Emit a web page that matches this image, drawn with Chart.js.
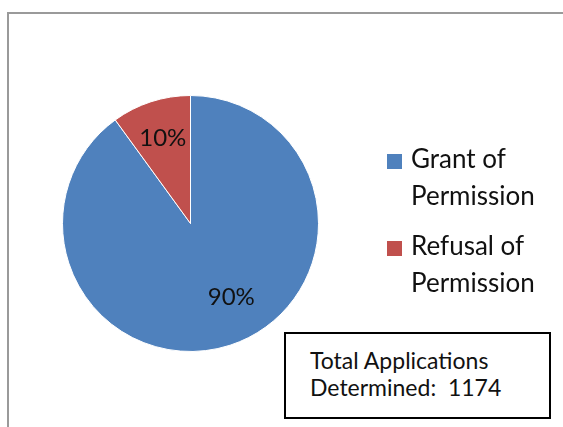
<!DOCTYPE html>
<html>
<head>
<meta charset="utf-8">
<script src="https://cdn.jsdelivr.net/npm/chart.js@4.4.1/dist/chart.umd.min.js"></script>
<style>
  html, body { margin: 0; padding: 0; background: #fff; }
  #wrap { position: relative; width: 563px; height: 427px; overflow: hidden; }
  #frame {
    position: absolute; left: 7px; top: 12px; width: 600px; height: 460px;
    border-left: 2px solid #9a9a9a; border-top: 2px solid #9a9a9a;
  }
  #chart { position: absolute; left: 0; top: 0; }
  #totalBox {
    position: absolute; left: 284px; top: 332px; width: 263px; height: 83px;
    border: 2px solid #000; background: #fff;
    font-family: Lato, "Open Sans", sans-serif; font-size: 23px; color: #111;
    box-sizing: content-box;
  }
  #totalBox div { position: absolute; left: 24px; white-space: pre; }
</style>
</head>
<body>
<div id="wrap">
  <div id="frame"></div>
  <canvas id="chart" width="563" height="427"></canvas>
  <div id="totalBox">
    <div style="top:12px">Total Applications</div>
    <div style="top:39px">Determined:  1174</div>
  </div>
</div>
<script>
// Values
var categories = ["Grant of Permission", "Refusal of Permission"];
var legendLines = [["Grant of", "Permission"], ["Refusal of", "Permission"]];
var percentages = [90, 10];

var sliceColors = ["#4F81BD", "#C0504D"];

// Draws the percent labels inside the slices and the legend on the right
var labelPlugin = {
    id: 'labelPlugin',
    afterDatasetsDraw: function(chart, args, opts) {
        var ctx = chart.ctx;
        var meta = chart.getDatasetMeta(0);
        ctx.save();
        ctx.font = '24px Lato, "Open Sans", sans-serif';
        ctx.fillStyle = '#111';
        ctx.textAlign = 'center';
        ctx.textBaseline = 'middle';
        meta.data.forEach(function(arc, i) {
            var p = arc.getProps(['x', 'y', 'startAngle', 'endAngle', 'outerRadius'], true);
            var mid = (p.startAngle + p.endAngle) / 2 + opts.angleShift[i];
            var r = p.outerRadius * opts.radiusFactor[i];
            ctx.fillText(percentages[i] + '%', p.x + Math.cos(mid) * r, p.y + Math.sin(mid) * r);
        });

        // legend
        ctx.font = '26px Lato, "Open Sans", sans-serif';
        ctx.textAlign = 'left';
        var x = 387, y = 161;
        legendLines.forEach(function(lines, i) {
            ctx.fillStyle = sliceColors[i];
            ctx.fillRect(x, y - 7, 15, 15);
            ctx.fillStyle = '#111';
            lines.forEach(function(line, j) {
                ctx.fillText(line, x + 24, y - 1 + j * 37);
            });
            y += 87;
        });
        ctx.restore();
    }
};

new Chart(document.getElementById('chart'), {
    type: 'pie',
    data: {
        labels: categories,
        datasets: [{
            data: percentages,
            backgroundColor: sliceColors,
            borderColor: '#ffffff',
            borderWidth: 1
        }]
    },
    options: {
        responsive: false,
        animation: false,
        layout: { padding: { left: 62, right: 244, top: 95, bottom: 75 } },
        plugins: {
            legend: { display: false },
            tooltip: { enabled: false },
            labelPlugin: {
                radiusFactor: [0.66, 0.7],
                angleShift: [-0.19, 0]
            }
        }
    },
    plugins: [labelPlugin]
});
</script>
</body>
</html>
